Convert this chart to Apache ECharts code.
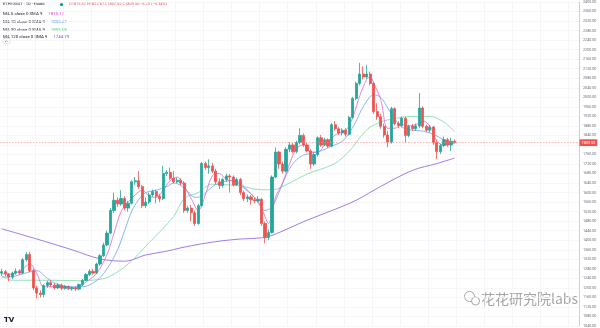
<!DOCTYPE html>
<html><head><meta charset="utf-8">
<script src="https://cdn.jsdelivr.net/npm/echarts@6/dist/echarts.min.js"></script>
<style>html,body{margin:0;padding:0;background:#fff}#c{width:600px;height:328px}</style>
</head><body><div id="c"></div>
<script>
// ---- data (daily candles, ETH/USDT) ----
const opens = [1262,1268,1258,1245,1262,1270,1262,1318,1340,1272,
1200,1178,1172,1210,1222,1212,1200,1212,1198,1206,
1196,1200,1195,1214,1232,1256,1270,1262,1300,1335,
1380,1430,1525,1568,1552,1575,1535,1555,1645,1650,
1625,1545,1560,1590,1605,1585,1575,1680,1685,1660,
1645,1652,1640,1525,1535,1515,1470,1545,1722,1705,
1712,1690,1645,1630,1655,1670,1665,1632,1655,1600,
1575,1582,1570,1565,1572,1470,1412,1432,1665,1770,
1720,1690,1782,1800,1772,1810,1840,1800,1775,1720,
1760,1830,1800,1822,1795,1885,1868,1850,1862,1845,
1915,1995,2058,2098,2085,2098,2058,1940,1918,1878,
1842,1812,1952,1890,1882,1912,1840,1878,1868,1880,
1955,1878,1862,1875,1810,1772,1798,1822,1800,1815.52];
const closes = [1268,1258,1245,1262,1270,1262,1318,1340,1272,1200,
1178,1172,1210,1222,1212,1200,1212,1198,1206,1196,
1200,1195,1214,1232,1256,1270,1262,1300,1335,1380,
1430,1525,1568,1552,1575,1535,1555,1645,1650,1625,
1545,1560,1590,1605,1585,1575,1680,1685,1660,1645,
1652,1640,1525,1535,1515,1470,1545,1722,1705,1712,
1690,1645,1630,1655,1670,1665,1632,1655,1600,1575,
1582,1570,1565,1572,1470,1412,1432,1665,1770,1720,
1690,1782,1800,1772,1810,1840,1800,1775,1720,1760,
1830,1800,1822,1795,1885,1868,1850,1862,1845,1915,
1995,2058,2098,2085,2098,2058,1940,1918,1878,1842,
1812,1952,1890,1882,1912,1840,1878,1868,1880,1955,
1878,1862,1875,1810,1772,1798,1822,1800,1815.75,1809.50];
const lows = [1250,1250,1228,1236,1255,1255,1258,1310,1265,1190,
1156,1160,1160,1200,1205,1192,1195,1190,1192,1190,
1188,1188,1190,1208,1228,1250,1255,1258,1292,1330,
1375,1425,1515,1540,1545,1525,1520,1550,1632,1615,
1535,1535,1552,1582,1555,1560,1568,1670,1652,1638,
1640,1630,1515,1515,1480,1460,1465,1540,1695,1680,
1682,1635,1615,1620,1645,1600,1625,1628,1590,1565,
1560,1550,1555,1558,1460,1387,1400,1428,1660,1700,
1680,1685,1770,1765,1765,1802,1792,1768,1700,1712,
1752,1792,1795,1788,1790,1860,1842,1840,1835,1840,
1910,1988,2050,2075,2078,2050,1930,1905,1868,1830,
1790,1805,1882,1870,1875,1810,1832,1858,1860,1872,
1870,1855,1852,1800,1740,1762,1790,1792,1775,1807.00];
const highs = [1280,1275,1262,1268,1282,1278,1325,1350,1352,1280,
1208,1190,1215,1230,1232,1220,1220,1218,1212,1210,
1205,1206,1218,1238,1262,1278,1280,1306,1342,1390,
1440,1535,1600,1580,1610,1585,1565,1652,1665,1690,
1632,1580,1600,1612,1612,1595,1712,1695,1705,1690,
1662,1660,1648,1545,1548,1525,1552,1728,1730,1740,
1725,1700,1660,1662,1680,1678,1672,1662,1662,1608,
1592,1590,1578,1585,1578,1478,1445,1672,1790,1775,
1730,1790,1812,1808,1818,1870,1848,1808,1782,1768,
1836,1842,1830,1828,1892,1900,1875,1870,1870,1922,
2002,2065,2145,2130,2135,2108,2065,1975,1930,1890,
1858,1960,1958,1900,1920,1918,1885,1888,1890,2018,
1962,1885,1882,1880,1820,1805,1835,1830,1830,1822.67];

// moving-average lines: [candle index, value]
const ma5 = [[0,1260],[3,1258],[6,1280],[8,1300],[10,1260],[12,1205],[15,1205],[18,1205],[21,1200],[24,1225],[27,1260],[30,1340],[32,1430],[34,1520],[36,1560],[38,1590],[40,1610],[42,1585],[44,1580],[46,1610],[48,1650],[50,1665],[52,1625],[54,1575],[56,1525],[58,1590],[60,1670],[62,1680],[64,1655],[66,1650],[68,1640],[70,1610],[72,1580],[74,1535],[75,1500],[76,1470],[77,1510],[78,1580],[80,1640],[82,1720],[84,1785],[86,1800],[88,1770],[90,1770],[92,1800],[94,1830],[96,1850],[98,1860],[100,1915],[102,2005],[104,2075],[105,2085],[106,2060],[108,1990],[110,1870],[112,1870],[114,1885],[116,1880],[118,1885],[120,1900],[122,1880],[124,1815],[126,1800],[128,1805],[129,1810.12]];
const ma10 = [[0,1245],[4,1250],[8,1268],[10,1272],[13,1240],[16,1215],[20,1205],[23,1205],[27,1230],[30,1280],[33,1360],[35,1440],[37,1520],[39,1570],[41,1600],[44,1610],[47,1625],[49,1640],[51,1630],[53,1605],[55,1580],[57,1585],[60,1625],[63,1645],[66,1650],[68,1630],[71,1595],[73,1565],[75,1525],[77,1540],[79,1600],[82,1700],[85,1750],[88,1765],[91,1775],[94,1795],[97,1815],[99,1850],[101,1900],[103,1960],[106,2010],[108,2000],[110,1955],[112,1910],[114,1875],[117,1862],[120,1858],[123,1845],[126,1822],[129,1806.47]];
const ma30 = [[0,1250],[3,1232],[14,1232],[22,1230],[28,1236],[31,1250],[36,1300],[42,1390],[49,1500],[52,1575],[56,1600],[60,1635],[65,1632],[68,1628],[74,1612],[77,1612],[82,1640],[87,1678],[94,1715],[97,1745],[100,1790],[102,1830],[105,1875],[110,1905],[118,1920],[122,1920],[126,1896],[129,1855.68]];
const ma120 = [[0,1448],[10,1405],[20,1360],[28,1322],[35,1312],[41,1338],[47,1354],[51,1368],[57,1385],[63,1398],[68,1405],[74,1410],[77,1420],[87,1484],[95,1530],[101,1568],[108,1626],[117,1693],[124,1722],[129,1744.79]];

const totalSlots = 165;           // candle slots incl. empty right margin
const lastPrice = 1809.50;
const ma120Last = 1744.79;
const yMin = 1040, yMax = 2400, yStep = 40;

// ---- build ----
const slots = Array.from({length: totalSlots}, (_, i) => String(i));
const kdata = opens.map((o, i) => [o, closes[i], lows[i], highs[i]]);

const UP = '#26a69a', DOWN = '#ef5350';
const FONT = 'Roboto';
const chart = echarts.init(document.getElementById('c'), null, {renderer: 'canvas'});

function maLine(name, data, color) {
  return {
    name, type: 'line', data, smooth: 0.35, showSymbol: false, symbol: 'none',
    connectNulls: true, silent: true,
    lineStyle: {color, width: 0.8}, z: 3
  };
}

const legendRows = [
  ['MA 5 close 0 SMA 9', '1810.12', '#d94fc9'],
  ['MA 10 close 0 SMA 9', '1806.47', '#4f8ef2'],
  ['MA 30 close 0 SMA 9', '1855.68', '#3fc27a'],
  ['MA 120 close 0 SMA 9', '1744.79', '#7a4fe0']
];

const graphics = [
  {type: 'text', left: 3, top: 2.2, style: {text: 'ETH/USDT · 1D · Huobi', fontSize: 4.1, fill: '#131722', fontFamily: FONT}},
  {type: 'circle', shape: {cx: 61.5, cy: 4.5, r: 1.6}, style: {fill: '#089981'}},
  {type: 'text', left: 69, top: 2.4, style: {text: 'O1815.52 H1822.67 L1807.00 C1809.50 −6.25 (−0.34%)', fontSize: 3.95, fill: '#ef5350', fontFamily: FONT}},
  {type: 'rect', shape: {x: 3, y: 38.5, width: 7, height: 5, r: 0.8}, style: {fill: '#fff', stroke: '#c8cbd3', lineWidth: 0.5}},
  {type: 'polyline', shape: {points: [[5.3, 41.8], [6.5, 40.4], [7.7, 41.8]]}, style: {stroke: '#131722', lineWidth: 0.6, fill: null}},
  {type: 'text', left: 4, top: 316.5, style: {text: 'TV', fontSize: 7, fontWeight: 'bold', fill: '#131722', fontFamily: 'DejaVu Sans'}},
  // watermark
  {type: 'circle', shape: {cx: 469.5, cy: 296.5, r: 5}, style: {fill: 'none', stroke: '#9a9a9a', lineWidth: 0.9}},
  {type: 'circle', shape: {cx: 475.5, cy: 301, r: 4}, style: {fill: '#fff', stroke: '#9a9a9a', lineWidth: 0.9}},
  {type: 'text', left: 481, top: 291.5, style: {text: '花花研究院labs', fontSize: 14, fill: '#a5a5a5', fontFamily: 'Noto Sans CJK SC'}}
];
legendRows.forEach((r, k) => {
  graphics.push({type: 'text', left: 3, top: 8.3 + k * 7.6,
    style: {text: '{a|' + r[0] + '}  {b|' + r[1] + '}', fontFamily: FONT,
      rich: {a: {fontSize: 4.4, fill: '#131722', fontFamily: FONT}, b: {fontSize: 4.4, fill: r[2], fontFamily: FONT}}}});
});

chart.setOption({
  animation: false,
  backgroundColor: '#ffffff',
  grid: {left: 0, right: 21, top: -10.4, bottom: -8.4, containLabel: false},
  xAxis: {
    type: 'category', data: slots, boundaryGap: true,
    axisLine: {show: false}, axisTick: {show: false}, axisLabel: {show: false},
    splitLine: {show: true, interval: (i) => i % 8 === 2, lineStyle: {color: '#eef0f4', width: 0.6}}
  },
  yAxis: {
    type: 'value', position: 'right', min: yMin, max: yMax, interval: yStep, scale: true,
    axisLine: {show: true, lineStyle: {color: '#b2b5be', width: 0.6}},
    axisTick: {show: false},
    axisLabel: {show: true, fontSize: 3.7, color: '#6a6d78', margin: 4, fontFamily: FONT,
      formatter: v => v.toFixed(2)},
    splitLine: {show: true, lineStyle: {color: '#f0f2f6', width: 0.6}}
  },
  series: [
    maLine('MA120', ma120, '#8a5be0'),
    maLine('MA30', ma30, '#7ad9a2'),
    maLine('MA10', ma10, '#6ba2f2'),
    maLine('MA5', ma5, '#e066cc'),
    {
      name: 'ETHUSDT', type: 'candlestick', data: kdata, barWidth: 2.7, z: 4,
      itemStyle: {color: UP, color0: DOWN, borderColor: UP, borderColor0: DOWN, borderWidth: 0.8},
      markLine: {
        symbol: 'none', silent: true, animation: false,
        data: [{yAxis: lastPrice}],
        lineStyle: {color: '#f08a88', type: [1.5, 1.5], width: 0.6},
        label: {show: true, position: 'end', formatter: lastPrice.toFixed(2), distance: 0.5,
          backgroundColor: '#ef5350', color: '#fff', fontSize: 3.7, padding: [1.6, 2.2, 1.2, 2.2], fontFamily: FONT}
      }
    },
    {
      name: 'MA120 label', type: 'line', data: [], silent: true,
      markLine: {
        symbol: 'none', silent: true, animation: false,
        data: [{yAxis: ma120Last}],
        lineStyle: {opacity: 0},
        label: {show: true, position: 'end', formatter: ma120Last.toFixed(2), distance: 0.5,
          backgroundColor: '#5a2fe0', color: '#fff', fontSize: 3.7, padding: [1.6, 2.2, 1.2, 2.2], fontFamily: FONT}
      }
    }
  ],
  graphic: graphics
});
</script></body></html>
